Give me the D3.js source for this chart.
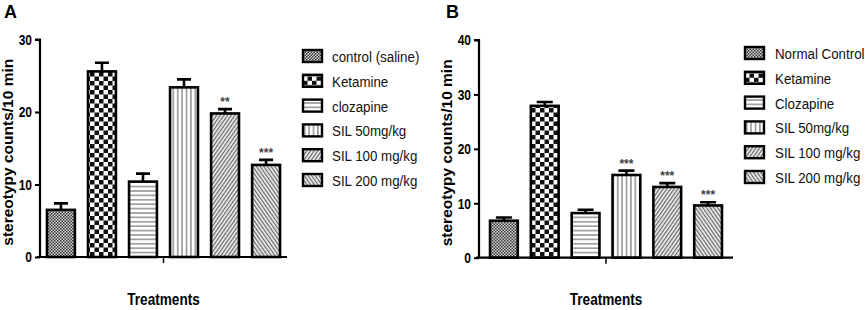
<!DOCTYPE html>
<html>
<head>
<meta charset="utf-8">
<script src="https://cdn.jsdelivr.net/npm/d3@7"></script>
<style>
  body { margin: 0; background: #fff; }
  svg { display: block; }
  text { font-family: "Liberation Sans", Arial, sans-serif; }
</style>
</head>
<body>
<div id="chart"></div>
<script>
const labelsA = ["control (saline)", "Ketamine", "clozapine", "SIL 50mg/kg", "SIL 100 mg/kg", "SIL 200 mg/kg"];
const meansA = [6.5, 25.6, 10.4, 23.4, 19.8, 12.7];
const errA = [0.9, 1.2, 1.1, 1.1, 0.6, 0.7];
const starsA = ["", "", "", "", "**", "***"];
const ticksA = [0, 10, 20, 30];

const labelsB = ["Normal Control", "Ketamine", "Clozapine", "SIL 50mg/kg", "SIL 100 mg/kg", "SIL 200 mg/kg"];
const meansB = [6.8, 27.9, 8.2, 15.2, 13.0, 9.6];
const errB = [0.6, 0.7, 0.6, 0.8, 0.7, 0.6];
const starsB = ["", "", "", "***", "***", "***"];
const ticksB = [0, 10, 20, 30, 40];

const patternIds = ["pFine", "pChecker", "pHoriz", "pVert", "pDiagR", "pDiagL"];

const width = 865, height = 310;
const svg = d3.select("#chart").append("svg")
    .attr("width", width)
    .attr("height", height);

// squeeze text horizontally, the figure uses a narrow font
function condense(sel, k) {
    sel.each(function() {
        const len = this.getComputedTextLength();
        d3.select(this).attr("textLength", len * k).attr("lengthAdjust", "spacingAndGlyphs");
    });
}

// fill patterns
const defs = svg.append("defs");
let p = defs.append("pattern").attr("id", "pFine").attr("patternUnits", "userSpaceOnUse")
    .attr("width", 3).attr("height", 3);
p.append("rect").attr("width", 3).attr("height", 3).attr("fill", "#d8d8d8");
p.append("rect").attr("width", 1.5).attr("height", 1.5).attr("fill", "#333");
p.append("rect").attr("x", 1.5).attr("y", 1.5).attr("width", 1.5).attr("height", 1.5).attr("fill", "#333");

p = defs.append("pattern").attr("id", "pChecker").attr("patternUnits", "userSpaceOnUse")
    .attr("width", 9).attr("height", 9);
p.append("rect").attr("width", 9).attr("height", 9).attr("fill", "#fff");
p.append("rect").attr("width", 4.5).attr("height", 4.5).attr("fill", "#111");
p.append("rect").attr("x", 4.5).attr("y", 4.5).attr("width", 4.5).attr("height", 4.5).attr("fill", "#111");

p = defs.append("pattern").attr("id", "pHoriz").attr("patternUnits", "userSpaceOnUse")
    .attr("width", 4.4).attr("height", 4.4);
p.append("rect").attr("width", 4.4).attr("height", 4.4).attr("fill", "#fff");
p.append("rect").attr("y", 1).attr("width", 4.4).attr("height", 1.6).attr("fill", "#999");

p = defs.append("pattern").attr("id", "pVert").attr("patternUnits", "userSpaceOnUse")
    .attr("width", 4.4).attr("height", 4.4);
p.append("rect").attr("width", 4.4).attr("height", 4.4).attr("fill", "#fff");
p.append("rect").attr("x", 1).attr("width", 1.4).attr("height", 4.4).attr("fill", "#8a8a8a");

p = defs.append("pattern").attr("id", "pDiagR").attr("patternUnits", "userSpaceOnUse")
    .attr("width", 3).attr("height", 3).attr("patternTransform", "rotate(35)");
p.append("rect").attr("width", 3).attr("height", 3).attr("fill", "#eee");
p.append("rect").attr("width", 1.2).attr("height", 3).attr("fill", "#666");

p = defs.append("pattern").attr("id", "pDiagL").attr("patternUnits", "userSpaceOnUse")
    .attr("width", 3).attr("height", 3).attr("patternTransform", "rotate(-35)");
p.append("rect").attr("width", 3).attr("height", 3).attr("fill", "#eee");
p.append("rect").attr("width", 1.2).attr("height", 3).attr("fill", "#666");

function panel(cfg) {
    const g = svg.append("g");
    const x = d3.scaleBand()
        .domain(cfg.labels)
        .range([cfg.x0, cfg.x1])
        .paddingInner(0.32)
        .paddingOuter(cfg.outer);
    const y = d3.scaleLinear()
        .domain([0, cfg.max])
        .range([cfg.y0, cfg.y1]);

    // bars
    g.selectAll(".bar")
        .data(cfg.means)
        .enter().append("rect")
        .attr("x", (d, i) => x(cfg.labels[i]))
        .attr("y", d => y(d))
        .attr("width", x.bandwidth())
        .attr("height", d => y(0) - y(d))
        .attr("fill", (d, i) => `url(#${patternIds[i]})`)
        .attr("stroke", "#000")
        .attr("stroke-width", 2.6);

    // error bars (upper only)
    g.selectAll(".err")
        .data(cfg.means)
        .enter().append("path")
        .attr("d", (d, i) => {
            const cx = x(cfg.labels[i]) + x.bandwidth() / 2;
            const top = y(d + cfg.err[i]);
            return `M${cx},${y(d)}V${top}M${cx - cfg.cap},${top}H${cx + cfg.cap}`;
        })
        .attr("stroke", "#000")
        .attr("stroke-width", 2.6)
        .attr("fill", "none");

    // significance stars
    g.selectAll(".star")
        .data(cfg.means)
        .enter().append("text")
        .attr("x", (d, i) => x(cfg.labels[i]) + x.bandwidth() / 2)
        .attr("y", (d, i) => y(d + cfg.err[i]) - 3)
        .attr("text-anchor", "middle")
        .style("font-size", "12px")
        .style("font-weight", "bold")
        .style("fill", "#444")
        .text((d, i) => cfg.stars[i]);

    // y axis
    const yAxis = g.append("g")
        .attr("transform", `translate(${cfg.x0},0)`)
        .call(d3.axisLeft(y).tickValues(cfg.ticks).tickSize(5).tickPadding(3).tickFormat(d3.format("d")));
    yAxis.select(".domain").attr("stroke-width", 2.2).attr("d", `M-5,${cfg.y1}H0V${cfg.y0}`);
    yAxis.selectAll(".tick line").attr("stroke-width", 2);
    yAxis.selectAll(".tick text")
        .style("font-family", "Liberation Sans, sans-serif")
        .style("font-size", "15px")
        .style("font-weight", "bold")
        .style("fill", "#000")
        .call(condense, 0.8);

    // x axis with single centre tick
    g.append("path")
        .attr("d", `M${cfg.x0 - 3},${cfg.y0}H${cfg.x1}`)
        .attr("stroke", "#000").attr("stroke-width", 2.2);
    const mid = (cfg.x0 + cfg.x1) / 2;
    g.append("path")
        .attr("d", `M${mid},${cfg.y0}V${cfg.y0 + 6}`)
        .attr("stroke", "#000").attr("stroke-width", 1.5);

    // titles
    g.append("text")
        .attr("x", cfg.letterX).attr("y", 18)
        .style("font-size", "18px").style("font-weight", "bold")
        .text(cfg.letter);
    g.append("text")
        .attr("transform", `translate(${cfg.x0 - 27},${(cfg.y0 + cfg.y1) / 2 + 4}) rotate(-90)`)
        .attr("text-anchor", "middle")
        .style("font-size", "15.5px").style("font-weight", "bold")
        .text("stereotypy counts/10 min");
    g.append("text")
        .attr("x", mid).attr("y", 305)
        .attr("text-anchor", "middle")
        .style("font-size", "17px").style("font-weight", "bold")
        .text("Treatments")
        .call(condense, 0.8);

    // legend
    const leg = g.selectAll(".leg")
        .data(cfg.labels)
        .enter().append("g")
        .attr("transform", (d, i) => `translate(${cfg.legX},${cfg.legY + i * 24.8})`);
    leg.append("rect")
        .attr("x", 0).attr("y", -6)
        .attr("width", 19).attr("height", 12)
        .attr("fill", (d, i) => `url(#${patternIds[i]})`)
        .attr("stroke", "#000").attr("stroke-width", 2.4);
    leg.append("g")
        .attr("transform", `translate(${cfg.legText},6) scale(0.86,1)`)
        .append("text")
        .style("font-size", "15.5px")
        .style("fill", "#111")
        .text(d => d);
}

panel({
    labels: labelsA, means: meansA, err: errA, stars: starsA, ticks: ticksA, max: 30,
    x0: 40, x1: 287, y0: 257, y1: 39.5, outer: 0.17, cap: 7,
    letter: "A", letterX: 4, legX: 303, legY: 56, legText: 29
});
panel({
    labels: labelsB, means: meansB, err: errB, stars: starsB, ticks: ticksB, max: 40,
    x0: 479, x1: 733, y0: 257.7, y1: 40, outer: 0.27, cap: 8,
    letter: "B", letterX: 446, legX: 745, legY: 53, legText: 30
});
</script>
</body>
</html>
